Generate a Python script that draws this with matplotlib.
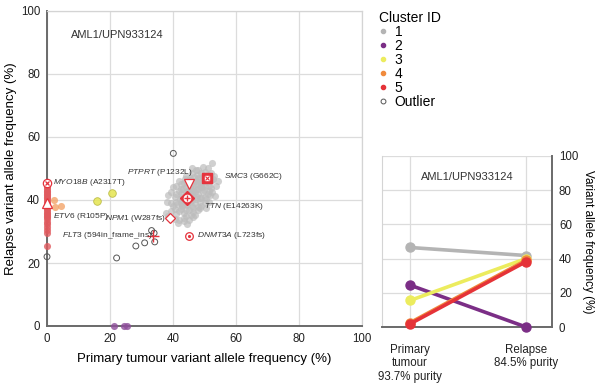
import matplotlib
matplotlib.use("Agg")
import matplotlib.pyplot as plt
from matplotlib.lines import Line2D

plt.rcParams["font.family"] = ["Liberation Sans", "DejaVu Sans"]
plt.rcParams["mathtext.fontset"] = "custom"
plt.rcParams["mathtext.it"] = "Liberation Sans:italic"
plt.rcParams["mathtext.rm"] = "Liberation Sans"

# ---- data ----
sample = "AML1/UPN933124"

# cluster 1 (grey cloud)
c1_x = [52.3, 49.5, 51.0, 48.0,
        46.0, 47.5, 49.0, 50.0, 52.0, 53.0, 48.0, 45.5, 44.0, 50.5, 52.0,
        42.0, 43.5, 46.5, 47.5, 49.0, 50.0, 51.5, 53.5, 41.0, 44.0, 45.5, 48.5, 46.5, 42.5, 40.0,
        39.5, 41.0, 42.5, 44.0, 45.5, 47.0, 48.0, 49.5, 51.0, 52.5, 43.0, 46.0, 47.5, 50.0, 40.5, 38.5,
        38.0, 39.5, 41.0, 42.5, 45.5, 47.0, 48.5, 50.0, 51.5, 40.0, 43.0, 46.0, 49.0, 44.5,
        37.8, 39.3, 40.5, 42.0, 43.5, 45.0, 46.5, 48.0, 41.0, 44.0, 47.0, 38.5,
        40.5, 42.0, 43.5, 45.0, 41.5, 46.5,
        45.0, 46.5, 47.5, 44.5, 46.0, 48.5, 43.0, 45.5, 47.0, 49.0,
        43.8, 45.2, 46.8, 48.2, 49.6, 51.2, 52.8, 54.2, 42.6, 44.4, 46.2, 47.8,
        49.2, 50.8, 52.2, 41.8, 43.2, 44.8, 46.4, 48.0, 49.8, 51.4, 42.2, 44.0,
        45.8, 47.4, 49.0, 50.6, 41.2, 43.0, 44.6, 46.2, 47.8, 42.4, 44.2, 45.6,
        43.4, 44.6, 48.6, 50.4, 53.2, 51.8, 47.2, 46.0]
c1_y = [51.6, 50.5, 50.0, 49.5,
        48.5, 48.0, 48.5, 49.0, 48.7, 47.5, 47.0, 47.0, 47.5, 46.5, 46.0,
        46.0, 45.5, 45.5, 45.0, 45.5, 44.5, 44.5, 44.5, 44.5, 44.0, 44.0, 44.0, 43.5, 43.5, 44.0,
        42.5, 42.0, 42.0, 42.5, 42.0, 42.5, 42.0, 42.5, 42.0, 42.5, 41.0, 41.0, 41.0, 41.0, 41.0, 41.5,
        39.5, 39.0, 39.5, 39.0, 39.5, 39.0, 39.5, 39.0, 39.5, 38.0, 38.0, 38.0, 38.0, 38.3,
        36.0, 36.5, 37.0, 36.5, 36.0, 36.8, 36.3, 36.7, 35.5, 35.0, 35.3, 35.0,
        34.0, 33.5, 33.2, 33.8, 32.8, 34.5,
        43.0, 43.0, 43.5, 40.0, 40.0, 40.5, 40.0, 46.5, 46.0, 44.5,
        46.8, 46.2, 47.2, 46.6, 47.4, 47.8, 46.8, 46.0, 45.0, 45.4, 44.6, 45.8,
        44.2, 45.6, 43.8, 43.0, 43.4, 43.2, 42.8, 43.6, 43.2, 43.0, 40.4, 40.8,
        41.8, 40.2, 40.6, 40.2, 38.8, 38.4, 38.8, 37.6, 37.8, 37.2, 36.8, 35.2,
        34.4, 32.4, 37.4, 37.6, 41.2, 41.6, 49.6, 50.2]

# cluster 2 (purple)
c2_x = [21.3, 24.6, 25.3]
c2_y = [0.0, 0.0, 0.0]

# cluster 3 (yellow)
c3_x = [15.8, 20.7]
c3_y = [39.8, 42.3]

# cluster 4 (orange)
c4_x = [2.3, 2.5, 4.3]
c4_y = [40.0, 37.9, 38.2]

# cluster 5 (red, all at primary VAF ~0)
c5_y = [25.5, 29.5, 30.5, 31.5, 32.5, 33.0, 34.0, 34.5, 35.0, 35.5, 36.0, 36.5,
        37.0, 37.5, 38.0, 38.5, 39.0, 39.5, 40.0, 40.5, 41.0, 41.5, 42.0, 42.5,
        43.0, 43.5, 44.0, 44.5, 45.0]
c5_x = [0.0] * len(c5_y)

# outliers
out_x = [0.0, 22.1, 28.2, 31.0, 33.2, 34.0, 34.2, 40.1]
out_y = [22.0, 21.6, 25.4, 26.4, 30.3, 29.5, 26.7, 54.8]

# labelled driver mutations
genes = ["MYO18B", "ETV6", "PTPRT", "SMC3", "TTN", "NPM1", "FLT3", "DNMT3A"]
changes = ["A2317T", "R105P", "P1232L", "G662C", "E14263K", "W287fs",
           "594in_frame_ins", "L723fs"]
gene_x = [0.0, 0.0, 45.2, 50.9, 44.3, 39.1, 33.8, 45.2]
gene_y = [45.5, 39.0, 45.1, 47.1, 40.5, 34.2, 28.6, 28.6]
label_x = [2.0, 2.0, 25.5, 56.2, 49.8, 18.5, 4.9, 47.5]
label_y = [45.5, 34.9, 48.8, 47.4, 37.9, 34.0, 28.8, 28.6]

# cluster means across time points (right panel)
timepoints = ["Primary\ntumour\n93.7% purity", "Relapse\n84.5% purity"]
cluster_ids = ["1", "2", "3", "4", "5"]
mean_primary = [46.5, 24.5, 15.5, 2.5, 1.8]
mean_relapse = [41.8, 0.0, 40.0, 39.0, 38.2]

colors = ["#b4b4b4", "#7b2e86", "#ecec5e", "#f08a3c", "#e53338"]
dot_colors = ["#bdbdbd", "#8e4e9a", "#e6e65a", "#f3a469", "#e05a5e"]
red = "#e5333d"

fig = plt.figure(figsize=(5.96, 3.85), dpi=100)

# ---- main scatter ----
ax = fig.add_axes([47 / 596, 1 - 326 / 385, 315 / 596, 315 / 385])
ax.set_xlim(0, 100)
ax.set_ylim(0, 100)
ax.set_xticks([0, 20, 40, 60, 80, 100])
ax.set_yticks([0, 20, 40, 60, 80, 100])
ax.grid(True, color="#dcdcdc", lw=0.9)
ax.set_axisbelow(True)
ax.tick_params(length=0, pad=5, labelsize=8.3, colors="#222222")
for s in ["left", "bottom"]:
    ax.spines[s].set_color("#6a6a6a")
    ax.spines[s].set_linewidth(1.4)
for s in ["top", "right"]:
    ax.spines[s].set_color("#d4d4d4")
    ax.spines[s].set_linewidth(0.9)

ax.scatter(c1_x, c1_y, s=26, color=dot_colors[0], alpha=0.7, lw=0, zorder=3)
ax.scatter(c2_x, c2_y, s=26, color=dot_colors[1], alpha=0.8, lw=0, zorder=3, clip_on=False)
ax.scatter(c3_x, c3_y, s=30, color=dot_colors[2], alpha=0.9, edgecolor="#b8b840", lw=0.6, zorder=3)
ax.scatter(c4_x, c4_y, s=26, color=dot_colors[3], alpha=0.8, lw=0, zorder=3, clip_on=False)
ax.scatter(c5_x, c5_y, s=26, color=dot_colors[4], alpha=0.8, lw=0, zorder=3, clip_on=False)
ax.scatter(out_x, out_y, s=18, facecolor="none", edgecolor="#555555", lw=0.7, zorder=4, clip_on=False)

# driver markers
mk = dict(mfc="white", mec=red, mew=0.9, ls="none", zorder=6, clip_on=False)
ax.plot(gene_x[0], gene_y[0], "o", ms=6, **mk)
ax.plot(gene_x[0], gene_y[0], "x", ms=3.5, mec=red, mew=0.9, zorder=7, clip_on=False)
ax.plot(gene_x[1], gene_y[1], "^", ms=7, **mk)
ax.plot(gene_x[2], gene_y[2], "v", ms=7, **mk)
ax.plot(gene_x[3], gene_y[3], "s", ms=6.5, mfc=red, mec=red, ls="none", zorder=6)
ax.plot(gene_x[3], gene_y[3], "s", ms=3.5, mfc="white", mec="white", ls="none", zorder=7)
ax.plot(gene_x[3], gene_y[3], "x", ms=3, mec=red, mew=0.8, zorder=8)
ax.plot(gene_x[4], gene_y[4], "D", ms=7.5, mfc=red, mec=red, ls="none", zorder=6)
ax.plot(gene_x[4], gene_y[4], "o", ms=4.5, mfc="white", mec="white", ls="none", zorder=7)
ax.plot(gene_x[4], gene_y[4], "+", ms=5, mec=red, mew=1, zorder=8)
ax.plot(gene_x[5], gene_y[5], "D", ms=5.5, **mk)
ax.plot(gene_x[6], gene_y[6], "+", ms=8, mec=red, mew=1, zorder=6)
ax.plot(gene_x[7], gene_y[7], "o", ms=5.5, **mk)
ax.plot(gene_x[7], gene_y[7], ".", ms=2.5, mec=red, mfc=red, zorder=7)

for g, c, lx, ly in zip(genes, changes, label_x, label_y):
    ax.text(lx, ly, r"$\it{" + g + "}$ (" + c + ")", fontsize=6.0,
            color="#333333", va="center", ha="left", zorder=9)

ax.text(7.5, 92.4, sample, fontsize=8, color="#333333", va="center", ha="left")
ax.set_xlabel("Primary tumour variant allele frequency (%)", fontsize=9.5, labelpad=6)
ax.set_ylabel("Relapse variant allele frequency (%)", fontsize=9.5, labelpad=3)

# ---- right panel: cluster means ----
ax2 = fig.add_axes([382 / 596, 1 - 327 / 385, 170 / 596, 171 / 385])
xpos = [0, 1]
for i in range(len(cluster_ids)):
    ax2.plot(xpos, [mean_primary[i], mean_relapse[i]], "-o", color=colors[i],
             lw=2.6, ms=6.5, zorder=3 + i, clip_on=False)
ax2.set_xlim(-28 / 116, 1 + 26 / 116)
ax2.set_ylim(0, 100)
ax2.set_yticks([0, 20, 40, 60, 80, 100])
ax2.set_xticks(xpos)
ax2.set_xticklabels(timepoints, fontsize=8.3)
ax2.yaxis.tick_right()
ax2.yaxis.set_label_position("right")
ax2.tick_params(length=0, labelsize=8.3, colors="#222222")
ax2.tick_params(axis="x", pad=12)
ax2.tick_params(axis="y", pad=5)
ax2.grid(True, color="#dcdcdc", lw=0.9)
ax2.set_axisbelow(True)
for s in ["right", "bottom"]:
    ax2.spines[s].set_color("#6a6a6a")
    ax2.spines[s].set_linewidth(1.4)
ax2.spines["top"].set_visible(False)
ax2.spines["left"].set_color("#d4d4d4")
ax2.text(0.5, 0.88, sample, transform=ax2.transAxes, fontsize=8,
         color="#333333", ha="center", va="center")
ax2.set_ylabel("Variant allele frequency (%)", fontsize=8.5, rotation=270, labelpad=11)

# ---- legend ----
handles = [Line2D([], [], marker="o", ls="none", ms=3.0, color=c) for c in colors]
handles.append(Line2D([], [], marker="o", ls="none", ms=3.5, mfc="none", mec="#555555", mew=0.7))
leg = fig.legend(handles, cluster_ids + ["Outlier"], title="Cluster ID", loc="upper left",
                 bbox_to_anchor=(373 / 596, 1 - 5 / 385), frameon=False, fontsize=10,
                 title_fontsize=10, handlelength=0.7, handletextpad=0.45,
                 labelspacing=0.0, alignment="left", borderaxespad=0)

fig.savefig("out.png", dpi=100)
